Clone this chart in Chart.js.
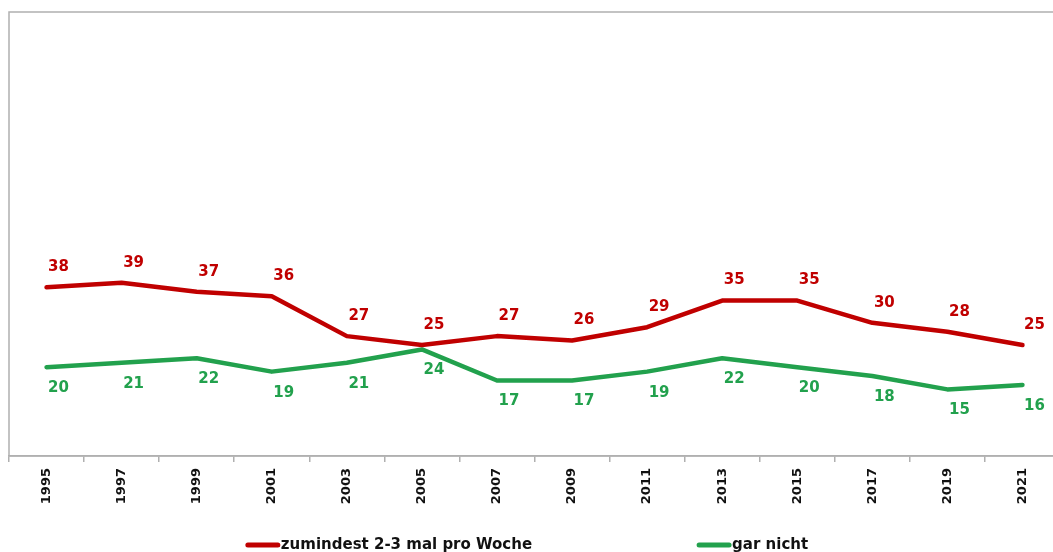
<!DOCTYPE html>
<html>
<head>
<meta charset="utf-8">
<script src="https://cdn.jsdelivr.net/npm/chart.js@4"></script>
<style>
    html, body { margin: 0; padding: 0; background: #fff; overflow: hidden; }
    #wrap { width: 1053px; height: 552px; overflow: hidden; }
</style>
</head>
<body>
<div id="wrap"><canvas id="chart" width="1075" height="552"></canvas></div>
<script>
// Data
const years = ['1995', '1997', '1999', '2001', '2003', '2005', '2007', '2009', '2011', '2013', '2015', '2017', '2019', '2021'];
const atLeastWeekly = [38, 39, 37, 36, 27, 25, 27, 26, 29, 35, 35, 30, 28, 25];
const notAtAll = [20, 21, 22, 19, 21, 24, 17, 17, 19, 22, 20, 18, 15, 16];
const seriesNames = ['zumindest 2-3 mal pro Woche', 'gar nicht'];

const RED = '#c00000';
const GREEN = '#22a14d';
const GREY = '#b0b0b0';
const FONT = "'DejaVu Sans', sans-serif";

// value labels next to each point (red above, green below)
const valueLabels = {
    id: 'valueLabels',
    afterDatasetsDraw(chart) {
        const ctx = chart.ctx;
        ctx.save();
        ctx.font = 'bold 15px ' + FONT;
        ctx.textAlign = 'center';
        ctx.textBaseline = 'middle';
        chart.data.datasets.forEach((ds, i) => {
            const meta = chart.getDatasetMeta(i);
            ctx.fillStyle = ds.borderColor;
            meta.data.forEach((pt, j) => {
                ctx.fillText(ds.data[j], pt.x + 12, pt.y + ds.labelDy);
            });
        });
        ctx.restore();
    }
};

// grey frame round the plot area
const frame = {
    id: 'frame',
    beforeDatasetsDraw(chart) {
        const a = chart.chartArea;
        const ctx = chart.ctx;
        ctx.save();
        ctx.strokeStyle = GREY;
        ctx.lineWidth = 1.5;
        ctx.strokeRect(a.left, a.top, a.right - a.left, a.bottom - a.top);
        ctx.restore();
    }
};

// legend at the bottom, two items spread apart
const bottomLegend = {
    id: 'bottomLegend',
    afterDraw(chart) {
        const ctx = chart.ctx;
        const lineLen = 35, gap = 164, y = 545, centre = 1053 / 2;
        ctx.save();
        ctx.font = 'bold 15px ' + FONT;
        ctx.textBaseline = 'middle';
        const items = chart.data.datasets.map(ds => ({
            text: ds.label, color: ds.borderColor,
            w: lineLen + 1 + ctx.measureText(ds.label).width
        }));
        const total = items.reduce((s, it) => s + it.w, 0) + gap * (items.length - 1);
        let x = centre - total / 2;
        items.forEach(it => {
            ctx.strokeStyle = it.color;
            ctx.lineWidth = 5;
            ctx.lineCap = 'round';
            ctx.beginPath();
            ctx.moveTo(x + 3, y);
            ctx.lineTo(x + lineLen - 2, y);
            ctx.stroke();
            ctx.fillStyle = '#111';
            ctx.fillText(it.text, x + lineLen + 1, y);
            x += it.w + gap;
        });
        ctx.restore();
    }
};

new Chart(document.getElementById('chart').getContext('2d'), {
    type: 'line',
    data: {
        labels: years,
        datasets: [{
            label: seriesNames[0],
            data: atLeastWeekly,
            borderColor: RED,
            labelDy: -20
        }, {
            label: seriesNames[1],
            data: notAtAll,
            borderColor: GREEN,
            labelDy: 21
        }]
    },
    options: {
        responsive: false,
        animation: false,
        layout: { padding: { left: 9, top: 12, right: 15, bottom: 0 } },
        elements: {
            line: { borderWidth: 4.5, tension: 0, borderJoinStyle: 'round', borderCapStyle: 'round' },
            point: { radius: 0, hoverRadius: 0 }
        },
        plugins: {
            legend: { display: false },
            tooltip: { enabled: false }
        },
        scales: {
            x: {
                offset: true,
                grid: { offset: true, drawOnChartArea: false, drawTicks: true, tickLength: 6, color: GREY, lineWidth: 1.5 },
                border: { display: true, color: GREY, width: 1.5 },
                ticks: {
                    minRotation: 90, maxRotation: 90, padding: 6,
                    color: '#111',
                    font: { family: FONT, size: 13, weight: 'bold' }
                },
                afterFit(scale) { scale.height = 96; }
            },
            y: {
                display: false,
                min: 0,
                max: 100
            }
        }
    },
    plugins: [frame, valueLabels, bottomLegend]
});
</script>
</body>
</html>
